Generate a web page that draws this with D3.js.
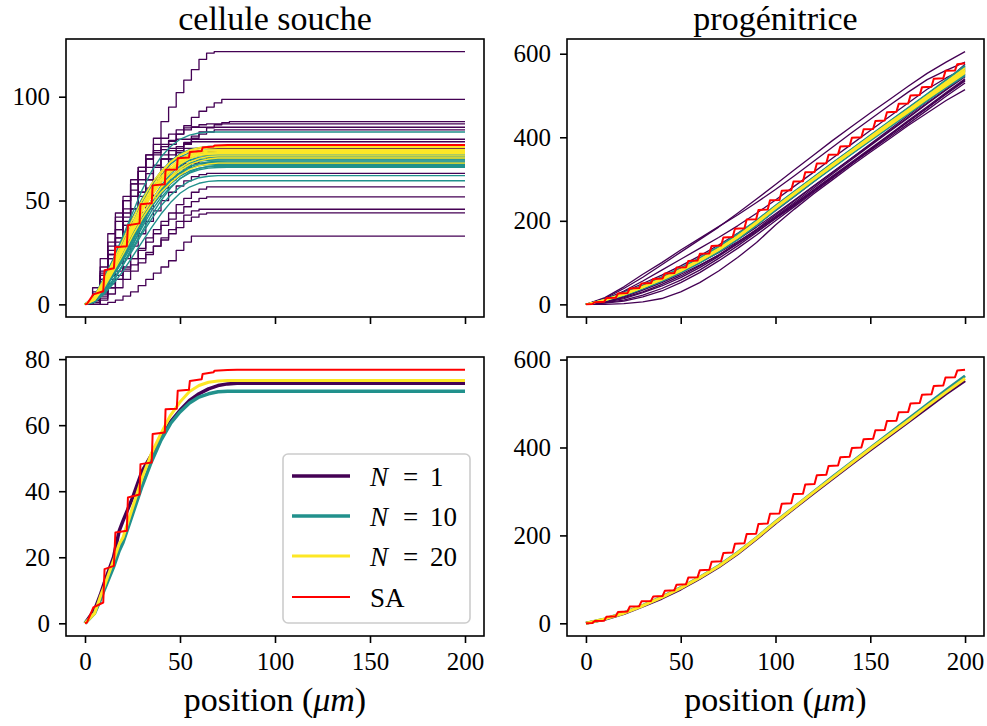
<!DOCTYPE html>
<html><head><meta charset="utf-8">
<script src="https://cdn.jsdelivr.net/npm/d3@7"></script>
<style>
body{margin:0;background:#fff;}
</style></head><body>
<svg id="c" width="987" height="726"></svg>
<script>
// ---------------- DATA ----------------
const titles = ["cellule souche", "progénitrice"];
const xLabel = "position";
const xTicks = [0, 50, 100, 150, 200];
const yTicksTL = [0, 50, 100];
const yTicksTR = [0, 200, 400, 600];
const yTicksBL = [0, 20, 40, 60, 80];
const yTicksBR = [0, 200, 400, 600];
const legendLabels = [["N", "1"], ["N", "10"], ["N", "20"], ["SA", null]];

// stem cell (cellule souche), N = 1 individual runs, sampled every 4 µm then held to 200
const xSoucheN1 = [0,4,8,12,16,20,24,28,32,36,40,44,48,52,56,60,64,68,72,76,80,200];
const soucheN1 = [
 [0,3,14,24,36,46,55,64,72,80,88,95,102,108,113,118,121,121.7,121.7,121.7,121.7,121.7],
 [0,2,10,18,28,38,46,54,60,66,72,77,82,86,90,93,95,97,98.7,98.7,98.7,98.7],
 [0,2,8,15,24,32,40,47,54,60,66,70,74,78,81,83,85,86.5,87.5,88,88,88],
 [0,4,12,22,32,42,52,60,66,72,76,79,82,84,85.5,86.5,86.9,86.9,86.9,86.9,86.9,86.9],
 [0,5,16,28,40,50,58,66,72,77,80,82,84,85,85.3,85.3,85.3,85.3,85.3,85.3,85.3,85.3],
 [0,1,6,12,20,28,36,44,52,58,64,70,74,77,80,82,83,84,84,84,84,84],
 [0,6,18,30,42,50,58,64,70,74,77,78.5,79.5,79.5,79.5,79.5,79.5,79.5,79.5,79.5,79.5,79.5],
 [0,3,12,22,30,38,46,54,60,66,70,74,76,77.5,78.3,78.3,78.3,78.3,78.3,78.3,78.3,78.3],
 [0,8,22,34,44,52,60,66,70,73,74.5,75.1,75.1,75.1,75.1,75.1,75.1,75.1,75.1,75.1,75.1,75.1],
 [0,4,15,26,36,44,52,58,63,67,70,72,73,73.5,73.5,73.5,73.5,73.5,73.5,73.5,73.5,73.5],
 [0,2,8,14,20,28,34,40,46,52,56,60,63,66,68,69.5,70.3,70.3,70.3,70.3,70.3,70.3],
 [0,4,14,24,32,40,46,52,56,60,63,65.5,67,67.9,67.9,67.9,67.9,67.9,67.9,67.9,67.9,67.9],
 [0,1,5,10,16,22,28,34,40,45,50,54,57,59.5,61.5,62.5,63.1,63.1,63.1,63.1,63.1,63.1],
 [0,0,3,8,12,17,22,27,32,36,40,44,48,51,54,55.5,56.6,56.6,56.6,56.6,56.6,56.6],
 [0,2,6,10,14,18,22,26,30,34,38,41,44,47,49.5,51,51.8,51.8,51.8,51.8,51.8,51.8],
 [0,0,2,5,8,12,16,20,24,28,32,36,40,43,45,45.8,45.8,45.8,45.8,45.8,45.8,45.8],
 [0,1,4,8,12,16,19,22,25,28,31,34,37,40,42,43.5,44.1,44.1,44.1,44.1,44.1,44.1],
 [0,0,0,1,2,4,6,9,12,15,18,21,26,30,32.9,32.9,32.9,32.9,32.9,32.9,32.9,32.9]
];
// stem cell, N = 10 and N = 20 runs, sampled every 5 µm up to 75 then 200
const xSouche = [0,5,10,15,20,25,30,35,40,45,50,55,60,65,70,75,200];
const soucheN10 = [
 [0,4,12,22,33,44,55,64,71,76,79.5,81.5,82.5,83,83,83,83],
 [0,3,11,20,29,39,49,57,64,69,72.5,74.5,75.5,76,76,76,76],
 [0,2,8,16,25,35,45,54,62,67.5,71,73,74,74.4,74.5,74.5,74.5],
 [0,4,13,22,32,42,51,58,64,68,70.5,72,72.8,73,73,73,73],
 [0,3,10,18,27,36,45,53,60,65,68.5,70.5,71.5,71.9,72,72,72],
 [0,2,7,14,22,31,40,49,57,63,67,69.5,70.8,71.3,71.5,71.5,71.5],
 [0,3,10,19,28,37,46,54,60,64.5,67.5,69.3,70.3,70.8,71,71,71],
 [0,3,9,16,24,33,42,50,57,62,65.5,67.8,69,69.7,70,70,70],
 [0,4,12,21,30,39,47,54,59.5,63.5,66.3,68,69,69.4,69.5,69.5,69.5],
 [0,2,7,14,22,30,39,47,54,59.5,63.5,66.3,67.8,68.6,68.9,69,69],
 [0,3,9,17,25,34,42,50,56,61,64.5,66.7,67.8,68.3,68.5,68.5,68.5],
 [0,2,8,15,23,31,40,48,54.5,59.5,63,65.5,67,67.7,68,68,68],
 [0,3,10,18,26,35,43,50,55.5,60,63.3,65.5,66.7,67.3,67.5,67.5,67.5],
 [0,2,6,12,19,27,35,43,50,56,60.5,63.5,65.5,66.5,66.9,67,67],
 [0,3,9,16,24,32,40,47,53,58,61.7,64.2,65.6,66.2,66.5,66.5,66.5],
 [0,2,7,14,21,29,37,45,51.5,56.5,60.5,63.2,64.8,65.6,65.9,66,66],
 [0,1,5,11,19,28,38,47,55,61,65.5,68,69.5,70.2,70.5,70.5,70.5],
 [0,2,6,12,19,26,34,41,47.5,52.5,56.5,59.3,61,61.7,62,62,62],
 [0,1,5,10,16,23,30,37,43.5,49,53.5,56.5,58.3,59.2,59.5,59.5,59.5]
];
const soucheN20 = [
 [0,3,11,20,29,39,48,56,63,68.5,72,74.3,75.5,75.9,76,76,76],
 [0,4,12,21,31,41,50,58,64,68.5,71.8,73.8,74.8,75.3,75.5,75.5,75.5],
 [0,3,10,19,28,38,47,55,61.5,66.5,70,72.5,73.8,74.3,74.5,74.5,74.5],
 [0,3,11,19,28,37,46,54,60.5,65.5,69.3,71.8,73.2,73.8,74,74,74],
 [0,2,9,17,26,36,45,53,60,65,68.8,71.3,72.8,73.3,73.5,73.5,73.5],
 [0,3,10,18,27,36,45,53,59.5,64.5,68.3,70.8,72.2,72.8,73,73,73],
 [0,3,11,19,28,37,45,52,58.5,63.5,67.5,70.2,71.7,72.3,72.5,72.5,72.5],
 [0,2,9,17,26,35,43,50,56.5,61.5,65.5,68.5,70.3,71.2,71.5,71.5,71.5],
 [0,3,10,18,26,35,43,50,56,60.8,64.5,67.3,69,70,70.5,70.5,70.5],
 [0,2,8,16,24,33,41,48,54,58.5,62.3,65,66.7,67.6,68,68,68]
];
// stem cell averages (bottom-left)
const xSoucheAvg = [0,5,8,10,15,18,20,25,30,35,40,45,50,55,60,65,70,75,80,200];
const soucheAvgN1  = [0,4,8.5,12,20,28,31,38,46,51,56.5,61,64.5,67.5,69.5,71,72,72.5,72.7,72.7];
const soucheAvgN10 = [0,3,7,10,17,22,24.5,33,41.5,49,55.5,60.5,64,66.7,68.5,69.5,70.1,70.3,70.3,70.3];
const soucheAvgN20 = [0,3,8,11,19,24,26,35,44,51.5,57.5,63,67,70.2,72,73,73.4,73.5,73.5,73.5];
// stem cell SA (x, y)
const soucheSA = [[0,0],[1,0.2],[4.4,4.8],[9.6,6.3],[10.3,16.4],[15.2,17.4],[16,27.5],[22,28],[22.6,38.1],
 [28.7,39],[29.2,48.2],[35.1,48.7],[35.6,57.3],[42,57.8],[42.4,64.8],[48.3,65],[48.8,70.4],[54.7,70.7],
 [55.2,73.4],[61.4,73.9],[61.9,75.5],[67.6,76],[68.2,76.5],[75,76.7],[80,76.8],[200,76.8]];

// progenitor (progénitrice), sampled every 10 µm
const xProg = [0,10,20,30,40,50,60,70,80,90,100,110,120,130,140,150,160,170,180,190,200];
const progN1 = [
 [0,14,38,65,95,125,155,185,218,252,287,322,357,392,425,458,490,522,553,580,605],
 [0,16,42,72,100,130,158,186,214,244,275,308,342,376,410,443,476,508,538,560,580],
 [0,10,26,45,65,86,110,136,166,198,232,266,300,334,368,401,434,467,500,535,575],
 [0,8,20,36,55,76,100,128,158,190,224,258,293,328,362,396,430,465,500,535,570],
 [0,12,30,50,70,92,116,142,170,200,232,264,296,328,360,393,426,459,492,526,560],
 [0,6,16,30,48,68,92,118,148,180,214,248,282,316,350,384,418,452,486,520,552],
 [0,5,14,28,44,64,88,115,145,177,210,244,278,312,346,380,413,446,480,513,545],
 [0,4,10,22,38,58,82,110,140,172,206,240,274,307,340,373,406,440,473,507,540],
 [0,3,8,18,32,52,76,104,134,166,200,234,268,302,336,370,404,437,470,503,535],
 [0,8,22,40,58,78,100,124,150,178,208,240,272,305,338,371,404,437,470,505,538],
 [0,6,18,34,52,72,94,118,145,174,205,237,270,303,336,368,400,432,465,498,530],
 [0,0,2,6,14,30,52,80,112,148,190,228,264,298,332,364,396,428,458,488,514],
 [0,10,25,42,60,80,102,127,155,185,217,250,283,316,349,382,415,448,482,515,548],
 [0,12,32,56,82,108,134,160,188,218,250,283,316,350,383,416,449,482,515,542,565]
];
const progN10 = [
 [0,12,28,46,66,88,112,139,169,202,237,271,305,339,372,405,438,471,504,538,572],
 [0,9,22,38,56,77,100,126,156,190,226,260,294,328,361,394,427,459,491,522,552],
 [0,11,26,43,62,84,108,135,165,199,235,269,303,337,370,403,436,469,502,535,567],
 [0,10,23,39,57,78,102,128,158,192,228,262,296,329,362,394,426,458,490,521,550],
 [0,11,25,42,61,82,106,132,163,197,233,268,302,336,369,402,435,467,500,532,563],
 [0,9,21,37,55,76,99,125,155,189,225,259,293,326,359,391,423,455,487,518,547],
 [0,10,24,41,60,81,105,131,161,195,231,265,299,333,366,399,431,463,496,528,559],
 [0,12,27,44,63,85,109,136,166,200,236,270,304,338,371,404,437,470,503,536,569],
 [0,10,23,40,58,79,103,129,159,193,229,263,297,331,364,396,428,460,492,524,555],
 [0,11,25,42,61,83,107,133,163,197,233,267,301,335,368,401,434,466,499,531,562]
];
const progN20 = [
 [0,10,24,41,60,81,105,131,161,196,232,266,300,334,367,400,432,464,497,529,560],
 [0,11,25,42,61,83,107,133,163,197,233,267,301,335,368,401,434,466,499,532,565],
 [0,10,23,40,59,80,104,130,160,194,230,264,298,331,364,397,429,461,493,525,556],
 [0,10,24,41,60,82,106,132,162,196,232,266,300,333,366,399,431,463,495,527,558],
 [0,11,26,43,62,84,108,134,164,198,234,268,302,336,369,402,435,467,500,533,566],
 [0,9,23,40,58,79,103,129,159,193,229,263,297,330,363,395,427,459,491,522,553],
 [0,10,24,41,61,82,106,132,162,196,232,266,300,334,367,400,432,465,497,530,561],
 [0,10,25,42,60,81,105,131,161,195,231,265,299,332,365,398,430,462,494,526,557]
];
// progenitor averages (bottom-right)
const progAvgN1  = [0,9,22,39,57,78,102,128,158,192,228,262,296,329,362,394,426,458,490,522,552];
const progAvgN10 = [0,10,24,41,60,81,105,131,161,195,231,265,299,333,366,399,432,465,498,531,563];
const progAvgN20 = [0,10,23,40,59,80,104,130,160,194,230,264,298,331,364,397,429,461,494,526,557];
// progenitor SA (x, y)
const progSA = [[0,0],[3.4,1],[4.6,5],[9.6,6],[10.8,15],[15.7,16],[16.9,26],[21.9,27],[23.1,38],
 [28.1,39],[29.3,50],[34.3,51],[35.5,61],[40.4,62],[41.6,74],[46.6,75],[47.8,88],[52.8,89],[54,104],
 [58.9,105],[60.1,121],[65.1,122],[66.3,140],[71.3,141],[72.5,160],[77.4,161],[78.6,181],[83.6,182],
 [84.8,203],[89.8,204],[91,226],[95.9,227],[97.1,249],[102.1,250],[103.3,272],[108.3,273],[109.5,294],
 [114.5,295],[115.7,316],[120.6,317],[121.8,337],[126.8,338],[128,358],[133,359],[134.2,378],[139.1,379],
 [140.3,399],[145.3,400],[146.5,419],[151.5,420],[152.7,439],[157.6,440],[158.8,460],[163.8,461],[165,480],
 [170,481],[171.2,500],[176.1,501],[177.3,520],[182.3,521],[183.5,540],[188.5,541],[189.7,559],[194.7,560],
 [195.9,575],[200,577]];

// ---------------- DRAW ----------------
const COL = {n1:"#440154", n10:"#21918c", n20:"#fde725", sa:"#ff0000"};
const FF = "'Liberation Serif', 'DejaVu Serif', serif";
const svg = d3.select("#c");
const FONT_TICK = 25, FONT_LABEL = 34;

const panels = [
  {key:"tl", x0:66, x1:484, y0:39, y1:317, yt:yTicksTL, xlab:false},
  {key:"tr", x0:567, x1:984, y0:39, y1:317, yt:yTicksTR, xlab:false},
  {key:"bl", x0:66, x1:484, y0:357, y1:636, yt:yTicksBL, xlab:true},
  {key:"br", x0:567, x1:984, y0:357, y1:636, yt:yTicksBR, xlab:true}
];
const zip = (xs, ys) => xs.map((v,i)=>[v, ys[i]]);
const series = {
  tl: [].concat(
    soucheN1.map(r=>({pts:zip(xSoucheN1,r), c:COL.n1, w:1.3, step:true})),
    soucheN10.map(r=>({pts:zip(xSouche,r), c:COL.n10, w:1.4})),
    soucheN20.map(r=>({pts:zip(xSouche,r), c:COL.n20, w:1.4})),
    [{pts:soucheSA, c:COL.sa, w:2}]),
  tr: [].concat(
    progN1.map(r=>({pts:zip(xProg,r), c:COL.n1, w:1.3})),
    progN10.map(r=>({pts:zip(xProg,r), c:COL.n10, w:1.4})),
    progN20.map(r=>({pts:zip(xProg,r), c:COL.n20, w:1.4})),
    [{pts:progSA, c:COL.sa, w:2}]),
  bl: [
    {pts:zip(xSoucheAvg,soucheAvgN1), c:COL.n1, w:3.5},
    {pts:zip(xSoucheAvg,soucheAvgN10), c:COL.n10, w:3.5},
    {pts:zip(xSoucheAvg,soucheAvgN20), c:COL.n20, w:3},
    {pts:soucheSA, c:COL.sa, w:2}],
  br: [
    {pts:zip(xProg,progAvgN1), c:COL.n1, w:3},
    {pts:zip(xProg,progAvgN10), c:COL.n10, w:3},
    {pts:zip(xProg,progAvgN20), c:COL.n20, w:3},
    {pts:progSA, c:COL.sa, w:2}]
};

panels.forEach(p => {
  const data = series[p.key];
  const ymax = d3.max(data, s => d3.max(s.pts, d => d[1]));
  const x = d3.scaleLinear().domain([-10, 210]).range([p.x0, p.x1]);
  const y = d3.scaleLinear().domain([-0.05*ymax, 1.05*ymax]).range([p.y1, p.y0]);
  const g = svg.append("g");
  const line = d3.line().x(d=>x(d[0])).y(d=>y(d[1]));
  data.forEach(s => {
    g.append("path").attr("d", line.curve(s.step ? d3.curveStepAfter : d3.curveLinear)(s.pts))
      .attr("fill","none").attr("stroke", s.c).attr("stroke-width", s.w)
      .attr("stroke-linejoin","round");
  });
  const ax = g.append("g").attr("transform",`translate(0,${p.y1})`)
    .call(d3.axisBottom(x).tickValues(xTicks).tickSize(7).tickPadding(9)
      .tickFormat(p.xlab ? d3.format("d") : ""));
  const ay = g.append("g").attr("transform",`translate(${p.x0},0)`)
    .call(d3.axisLeft(y).tickValues(p.yt).tickSize(7).tickPadding(9).tickFormat(d3.format("d")));
  [ax, ay].forEach(a => {
    a.attr("font-family", null).attr("font-size", null);
    a.select(".domain").remove();
    a.selectAll(".tick line").attr("stroke","#000").attr("stroke-width",1.6);
    a.selectAll("text").style("font-family", FF).style("font-size", FONT_TICK + "px").attr("fill","#000");
  });
  g.append("rect").attr("x",p.x0).attr("y",p.y0).attr("width",p.x1-p.x0).attr("height",p.y1-p.y0)
    .attr("fill","none").attr("stroke","#000").attr("stroke-width",1.6);
  if (p.xlab) {
    const t = g.append("text").attr("x",(p.x0+p.x1)/2).attr("y",711).attr("text-anchor","middle")
      .style("font-family", FF).style("font-size", FONT_LABEL + "px");
    t.append("tspan").text(xLabel + " (");
    t.append("tspan").style("font-style","italic").text("μm");
    t.append("tspan").text(")");
  }
});

// titles
[[titles[0], (66+484)/2], [titles[1], (567+984)/2]].forEach(([txt, cx]) => {
  svg.append("text").attr("x", cx).attr("y", 30).attr("text-anchor","middle")
    .style("font-family", FF).style("font-size", FONT_LABEL + "px").text(txt);
});

// legend (bottom-left)
const lg = svg.append("g");
lg.append("rect").attr("x",283).attr("y",454).attr("width",187).attr("height",169).attr("rx",5)
  .attr("fill","#fff").attr("fill-opacity",0.8).attr("stroke","#cccccc").attr("stroke-width",1.6);
const legCols = [COL.n1, COL.n10, COL.n20, COL.sa];
const legW = [3.5, 3.5, 3, 2];
const legY = [476, 516, 556, 597];
legendLabels.forEach((lab, i) => {
  lg.append("line").attr("x1",292).attr("x2",350).attr("y1",legY[i]).attr("y2",legY[i])
    .attr("stroke",legCols[i]).attr("stroke-width",legW[i]);
  const t = lg.append("text").attr("y",legY[i]+10)
    .style("font-family", FF).style("font-size","27px");
  if (lab[1] !== null) {
    t.append("tspan").attr("x",370).style("font-style","italic").text(lab[0]);
    t.append("tspan").attr("x",403).text("=");
    t.append("tspan").attr("x",430).text(lab[1]);
  } else {
    t.append("tspan").attr("x",370).text(lab[0]);
  }
});
</script>
</body></html>
